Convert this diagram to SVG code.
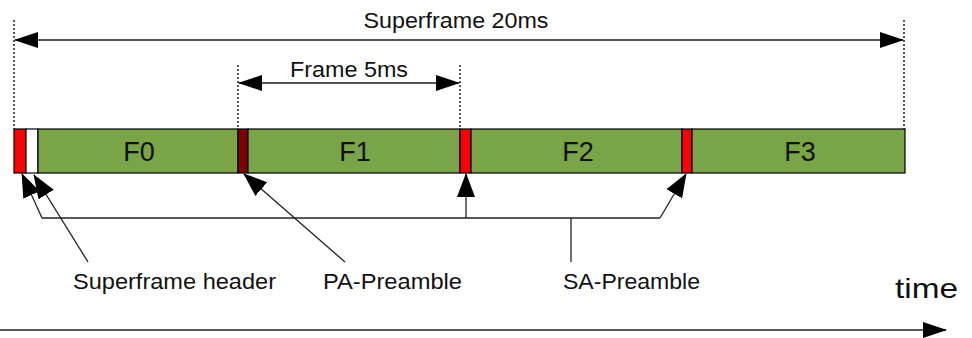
<svg xmlns="http://www.w3.org/2000/svg" width="972" height="338" viewBox="0 0 972 338">
<style>
text{font-family:"Liberation Sans",Arial,sans-serif;fill:#111;font-size:22px}
.fl{font-size:27px}
.seg{stroke:#000;stroke-width:1.2}
.green{fill:#79A447}
.red{fill:#FF0000}
.dred{fill:#800000}
.white{fill:#fff}
.dot{stroke:#222;stroke-width:1.5;stroke-dasharray:2,2;fill:none}
.dim{stroke:#555;stroke-width:2;fill:none}
.ln{stroke:#222;stroke-width:1.3;fill:none}
</style>
<defs>
<marker id="ah" markerUnits="userSpaceOnUse" markerWidth="24" markerHeight="16" viewBox="0 0 24 16" refX="23" refY="8" orient="auto-start-reverse">
<path d="M0,0 L24,8 L0,16 z" fill="#000"/>
</marker>
<marker id="ah2" markerUnits="userSpaceOnUse" markerWidth="24" markerHeight="18" viewBox="0 0 24 18" refX="23" refY="9" orient="auto">
<path d="M0,0 L24,9 L0,18 z" fill="#000"/>
</marker>
</defs>
<g id="dimensions">
<line class="dot" x1="14" y1="20" x2="14" y2="129"/>
<line class="dot" x1="904" y1="20" x2="904" y2="129"/>
<line class="dot" x1="238" y1="65" x2="238" y2="129"/>
<line class="dot" x1="460" y1="65" x2="460" y2="129"/>
<line class="dim" x1="15" y1="40" x2="903" y2="40" marker-start="url(#ah)" marker-end="url(#ah)"/>
<line class="dim" x1="239" y1="83" x2="459" y2="83" marker-start="url(#ah)" marker-end="url(#ah)"/>
<text x="456" y="28" text-anchor="middle" textLength="185" lengthAdjust="spacingAndGlyphs">Superframe 20ms</text>
<text x="349" y="77" text-anchor="middle" textLength="118" lengthAdjust="spacingAndGlyphs">Frame 5ms</text>
</g>
<g id="bar">
<rect class="seg red" x="14" y="129" width="12" height="44"/>
<rect class="seg white" x="26" y="129" width="12" height="44"/>
<g id="F0"><rect class="seg green" x="38" y="129" width="200" height="44"/><text class="fl" x="139" y="161" text-anchor="middle">F0</text></g>
<rect class="seg dred" x="238" y="129" width="10" height="44"/>
<g id="F1"><rect class="seg green" x="248" y="129" width="212" height="44"/><text class="fl" x="355" y="161" text-anchor="middle">F1</text></g>
<rect class="seg red" x="460" y="129" width="11" height="44"/>
<g id="F2"><rect class="seg green" x="471" y="129" width="211" height="44"/><text class="fl" x="578" y="161" text-anchor="middle">F2</text></g>
<rect class="seg red" x="682" y="129" width="10" height="44"/>
<g id="F3"><rect class="seg green" x="692" y="129" width="213" height="44"/><text class="fl" x="800" y="161" text-anchor="middle">F3</text></g>
</g>
<g id="connectors">
<polyline class="ln" points="660,218 42,218"/>
<line class="ln" x1="660" y1="218" x2="686" y2="174" marker-end="url(#ah2)"/>
<line class="ln" x1="42" y1="218" x2="22" y2="174" marker-end="url(#ah2)"/>
<line class="ln" x1="466" y1="218" x2="466" y2="174" marker-end="url(#ah2)"/>
<line class="ln" x1="571" y1="218" x2="571" y2="262"/>
<line class="ln" x1="88" y1="262" x2="34" y2="175" marker-end="url(#ah2)"/>
<line class="ln" x1="345" y1="262" x2="244" y2="174" marker-end="url(#ah2)"/>
<line class="ln" x1="0" y1="330" x2="946" y2="330" marker-end="url(#ah)"/>
</g>
<g id="labels">
<text x="73" y="289" textLength="203" lengthAdjust="spacingAndGlyphs">Superframe header</text>
<text x="323" y="289" textLength="139" lengthAdjust="spacingAndGlyphs">PA-Preamble</text>
<text x="563" y="289" textLength="137" lengthAdjust="spacingAndGlyphs">SA-Preamble</text>
<text x="895" y="298" textLength="63" lengthAdjust="spacingAndGlyphs" style="font-size:28px">time</text>
</g>
</svg>
